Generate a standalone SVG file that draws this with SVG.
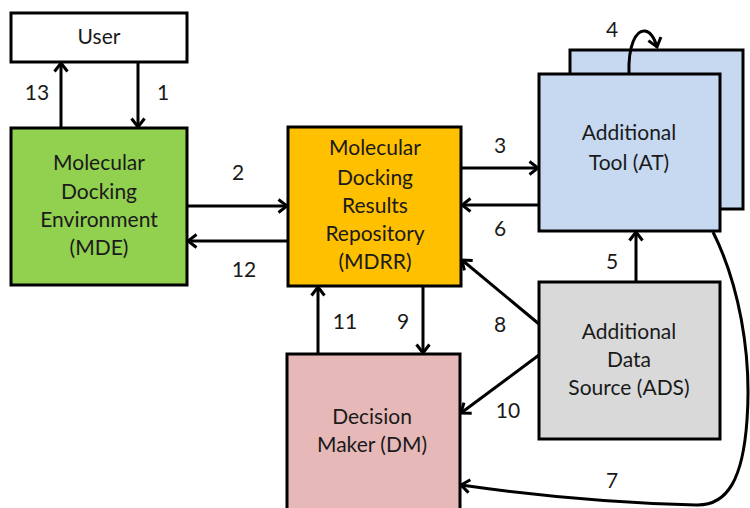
<svg xmlns="http://www.w3.org/2000/svg" width="750" height="508" viewBox="0 0 750 508">
<defs>
<style>
.box{stroke:#000;stroke-width:3}
.t{font-family:Lato,"Open Sans","Liberation Sans",sans-serif;font-size:21px;fill:#1a1a1a;text-anchor:middle}
.c{fill:none;stroke:#000;stroke-width:3}
</style>
<marker id="ah" viewBox="0 0 12 16" refX="10" refY="8" markerWidth="12" markerHeight="16" markerUnits="userSpaceOnUse" orient="auto">
<path d="M1.5,1.5 L10,8 L1.5,14.5" fill="none" stroke="#000" stroke-width="3"/>
</marker>
</defs>
<rect width="750" height="508" fill="#fff"/>
<g id="user">
<rect class="box" x="11" y="13" width="176" height="49" fill="#fff"/>
<text class="t" x="99" y="44">User</text>
</g>
<g id="mde">
<rect class="box" x="11" y="128" width="176" height="157" fill="#92D050"/>
<text class="t" x="99" y="170">Molecular</text>
<text class="t" x="99" y="199">Docking</text>
<text class="t" x="99" y="227">Environment</text>
<text class="t" x="99" y="255">(MDE)</text>
</g>
<g id="mdrr">
<rect class="box" x="288" y="127" width="173" height="159" fill="#FFC000"/>
<text class="t" x="375" y="155">Molecular</text>
<text class="t" x="375" y="185">Docking</text>
<text class="t" x="375" y="213">Results</text>
<text class="t" x="375" y="241">Repository</text>
<text class="t" x="375" y="269">(MDRR)</text>
</g>
<g id="at">
<rect class="box" x="570" y="50" width="173" height="159" fill="#C6D9F1"/>
<rect class="box" x="539" y="74" width="181" height="157" fill="#C6D9F1"/>
<text class="t" x="629" y="140">Additional</text>
<text class="t" x="629" y="170">Tool (AT)</text>
</g>
<g id="ads">
<rect class="box" x="539" y="282" width="181" height="157" fill="#D9D9D9"/>
<text class="t" x="629" y="339">Additional</text>
<text class="t" x="629" y="367">Data</text>
<text class="t" x="629" y="395">Source (ADS)</text>
</g>
<g id="dm">
<rect class="box" x="287" y="354" width="173" height="160" fill="#E6B9B8"/>
<text class="t" x="372" y="424">Decision</text>
<text class="t" x="372" y="452">Maker (DM)</text>
</g>
<g id="connectors">
<path class="c" d="M61,128 V63" marker-end="url(#ah)"/>
<path class="c" d="M138,62 V127" marker-end="url(#ah)"/>
<path class="c" d="M187,206 H287" marker-end="url(#ah)"/>
<path class="c" d="M288,241 H188" marker-end="url(#ah)"/>
<path class="c" d="M461,168 H538" marker-end="url(#ah)"/>
<path class="c" d="M539,205 H462" marker-end="url(#ah)"/>
<path class="c" d="M629,74 C628,45 636,30 645,31 C651,32 655,40 657,47" marker-end="url(#ah)"/>
<path class="c" d="M636,282 V232" marker-end="url(#ah)"/>
<path class="c" d="M539,324 L462,260" marker-end="url(#ah)"/>
<path class="c" d="M423,286 V353" marker-end="url(#ah)"/>
<path class="c" d="M318,354 V287" marker-end="url(#ah)"/>
<path class="c" d="M539,355 L461,413" marker-end="url(#ah)"/>
<path class="c" d="M713,232 C738,282 752,352 747,420 C743,478 728,506 696,505 Q580,502 461,485" marker-end="url(#ah)"/>
<text class="t" x="37" y="100">13</text>
<text class="t" x="163" y="100">1</text>
<text class="t" x="238" y="180">2</text>
<text class="t" x="244" y="277">12</text>
<text class="t" x="500" y="153">3</text>
<text class="t" x="500" y="236">6</text>
<text class="t" x="612" y="37">4</text>
<text class="t" x="612" y="269">5</text>
<text class="t" x="500" y="332">8</text>
<text class="t" x="403" y="329">9</text>
<text class="t" x="345" y="329">11</text>
<text class="t" x="508" y="418">10</text>
<text class="t" x="612" y="488">7</text>
</g>
</svg>
